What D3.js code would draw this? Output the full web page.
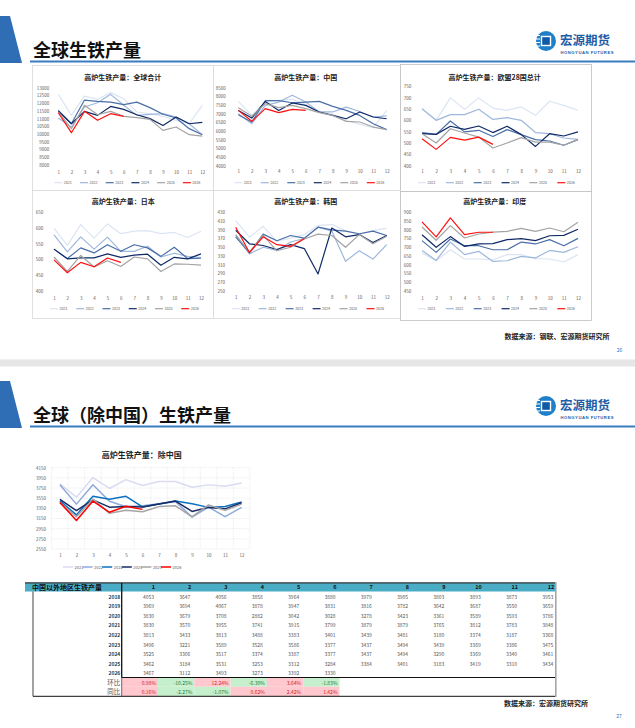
<!DOCTYPE html>
<html>
<head>
<meta charset="utf-8">
<title>全球生铁产量</title>
<script src="https://d3js.org/d3.v7.min.js"></script>
<style>
  body { margin: 0; background: #fff; }
  svg { display: block; font-family: "Noto Sans CJK SC", "Noto Sans", sans-serif; }
</style>
</head>
<body>
<svg id="page" width="635" height="728"></svg>
<script>
// ---- data ----
const months = [1, 2, 3, 4, 5, 6, 7, 8, 9, 10, 11, 12];
const years = ["2021", "2022", "2023", "2024", "2025", "2026"];

// 高炉生铁产量：全球合计
const globalSeries = [
  [12570, 11210, 12460, 12250, 12680, 12290, 11430, 11320, 11150, 10890, 10670, 11860],
  [11040, 10460, 11750, 12030, 12570, 11860, 11210, 11280, 11320, 11100, 10670, 9960],
  [11530, 10670, 12200, 12120, 12070, 11900, 12070, 11710, 11280, 11040, 10350, 9960],
  [11490, 10670, 11470, 11210, 11790, 11600, 11250, 11000, 10560, 11100, 10670, 10760],
  [11430, 10350, 11860, 11250, 11470, 11150, 11060, 10950, 10240, 10460, 9960, 9870],
  [11380, 10090, 11470, 10890, 11320, 11150]
];
const globalTicks = [8000, 8500, 9000, 9500, 10000, 10500, 11000, 11500, 12000, 12500, 13000];

// 高炉生铁产量：中国
const chinaSeries = [
  [7710, 6900, 7670, 7770, 7830, 7520, 7130, 6960, 6620, 6380, 6190, 7190],
  [7000, 6420, 7480, 7670, 8060, 7670, 7100, 7100, 7380, 7130, 6810, 6870],
  [6940, 6520, 7750, 7750, 7630, 7670, 7710, 7420, 7190, 6900, 6420, 6080],
  [7190, 6750, 7710, 7190, 7620, 7480, 7100, 6900, 6710, 7100, 6810, 6710],
  [7350, 6850, 7580, 7350, 7480, 7290, 7060, 6900, 6560, 6520, 6230, 6080],
  [7190, 6560, 7290, 7060, 7250, 7190]
];
const chinaTicks = [4000, 4500, 5000, 5500, 6000, 6500, 7000, 7500, 8000, 8500];

// 高炉生铁产量：欧盟28国总计
const euSeries = [
  [651, 600, 699, 649, 699, 654, 644, 659, 622, 684, 666, 644],
  [651, 600, 625, 625, 649, 604, 612, 600, 546, 541, 522, 516],
  [546, 538, 597, 549, 556, 529, 559, 537, 515, 509, 490, 515],
  [541, 538, 574, 560, 575, 546, 574, 537, 485, 541, 531, 549],
  [541, 500, 563, 544, 526, 478, 500, 524, 504, 504, 490, 516],
  [519, 472, 525, 513, 526, 494]
];
const euTicks = [400, 450, 500, 550, 600, 650, 700, 750];

// 高炉生铁产量：日本
const japanSeries = [
  [600, 545, 611, 568, 613, 582, 590, 592, 582, 586, 570, 590],
  [578, 524, 572, 533, 571, 526, 526, 542, 508, 520, 510, 506],
  [533, 503, 537, 521, 547, 526, 547, 537, 510, 539, 503, 504],
  [533, 502, 505, 505, 518, 507, 514, 517, 482, 507, 502, 518],
  [508, 462, 513, 476, 496, 478, 508, 502, 462, 486, 485, 482],
  [499, 458, 491, 477, 505, 491]
];
const japanTicks = [400, 450, 500, 550, 600, 650];

// 高炉生铁产量：韩国
const koreaSeries = [
  [411, 373, 398, 364, 371, 379, 400, 402, 388, 379, 388, 394],
  [377, 335, 350, 343, 362, 370, 396, 387, 318, 342, 323, 356],
  [374, 337, 380, 365, 377, 371, 396, 390, 387, 381, 387, 377],
  [389, 358, 354, 345, 356, 347, 289, 394, 374, 379, 361, 377],
  [379, 339, 377, 342, 350, 369, 380, 377, 350, 379, 358, 375],
  [396, 338, 374, 356, 352, 370]
];
const koreaTicks = [250, 270, 290, 310, 330, 350, 370, 390, 410, 430];

// 高炉生铁产量：印度
const indiaSeries = [
  [667, 623, 686, 633, 633, 629, 658, 658, 635, 633, 616, 658],
  [682, 625, 730, 658, 677, 619, 623, 648, 639, 682, 671, 703],
  [738, 671, 747, 709, 709, 686, 686, 730, 719, 744, 709, 751],
  [772, 700, 761, 705, 719, 721, 744, 749, 738, 766, 768, 803],
  [816, 740, 824, 753, 776, 787, 791, 808, 791, 810, 789, 843],
  [845, 759, 868, 772, 786, 786]
];
const indiaTicks = [450, 500, 550, 600, 650, 700, 750, 800, 850, 900];

// 中国以外地区生铁产量 (table, also the 除中国 chart)
const tableYears = ["2018", "2019", "2020", "2021", "2022", "2023", "2024", "2025", "2026"];
const tableRows = [
  [4053, 3647, 4056, 3858, 3964, 3880, 3979, 3905, 3803, 3893, 3873, 3953],
  [3969, 3694, 4067, 3878, 3947, 3831, 3816, 3782, 3642, 3687, 3550, 3659],
  [3830, 3679, 3708, 2882, 3042, 3028, 3278, 3423, 3361, 3589, 3593, 3786],
  [3830, 3570, 3955, 3741, 3915, 3799, 3879, 3879, 3765, 3812, 3783, 3848],
  [3813, 3433, 3813, 3488, 3383, 3401, 3439, 3481, 3180, 3374, 3187, 3368],
  [3496, 3221, 3589, 3528, 3586, 3377, 3437, 3494, 3439, 3369, 3386, 3475],
  [3525, 3306, 3517, 3374, 3387, 3377, 3437, 3494, 3290, 3369, 3340, 3461],
  [3462, 3184, 3531, 3253, 3312, 3284, 3384, 3401, 3183, 3419, 3310, 3434],
  [3467, 3112, 3493, 3273, 3392, 3330]
];
const momPct = [0.98, -10.25, 12.24, -6.30, 3.64, -1.83];
const yoyPct = [0.16, -2.27, -1.07, 0.62, 2.42, 1.42];
const exChinaTicks = [2550, 2750, 2950, 3150, 3350, 3550, 3750, 3950, 4150];

// ---- styles ----
const topColors = ["#dce5f3", "#9fb7dd", "#4a6fa8", "#0f2a66", "#a3a3a3", "#ff1010"];
const bottomColors = ["#d9dbf1", "#8eaadb", "#0a72c0", "#1a2a62", "#a5a5a5", "#ff0000"];

const svg = d3.select("#page");

function drawHeader(dy, title) {
  const h = svg.append("g").attr("transform", "translate(0," + dy + ")");
  h.append("path").attr("d", "M0,16 L10,16 L22,63 L0,63 Z").attr("fill", "#2f6eb5");
  h.append("text").attr("x", 33).attr("y", 57)
    .attr("font-size", 18).attr("font-weight", 700).attr("fill", "#111")
    .text(title);
  h.append("rect").attr("x", 30).attr("y", 60.5).attr("width", 605).attr("height", 2)
    .attr("fill", "#3a7cc0");
  // logo
  const lg = h.append("g").attr("transform", "translate(546,41)");
  lg.append("circle").attr("r", 10).attr("fill", "#1f7fc9");
  lg.append("rect").attr("x", -4.5).attr("y", -4.5).attr("width", 9).attr("height", 9)
    .attr("fill", "#0f5aa6").attr("stroke", "#fff").attr("stroke-width", 1.4);
  [-6, -2.5, 1, 4.5].forEach(yy => {
    lg.append("rect").attr("x", -11).attr("y", yy).attr("width", 5).attr("height", 1)
      .attr("fill", "#fff");
  });
  h.append("text").attr("x", 560).attr("y", 45)
    .attr("font-size", 12.5).attr("font-weight", 700).attr("fill", "#1d5ea8")
    .text("宏源期货");
  h.append("text").attr("x", 560.5).attr("y", 53.5)
    .attr("font-size", 4.2).attr("font-weight", 700).attr("fill", "#1d5ea8")
    .attr("textLength", 53).attr("font-family", "Liberation Sans, Arial, sans-serif")
    .text("HONGYUAN FUTURES");
}

function drawLineChart(cfg, series, ticks, colors) {
  const g = svg.append("g");
  if (cfg.box) {
    g.append("rect")
      .attr("x", cfg.box[0] + 0.5).attr("y", cfg.box[1] + 0.5)
      .attr("width", cfg.box[2] - cfg.box[0]).attr("height", cfg.box[3] - cfg.box[1])
      .attr("fill", "#fff").attr("stroke", cfg.boxColor || "#d9d9d9").attr("stroke-width", 0.8);
  }
  g.append("text")
    .attr("x", cfg.tx).attr("y", cfg.ty)
    .attr("text-anchor", "middle").attr("dominant-baseline", "central")
    .attr("font-size", cfg.titleSize).attr("font-weight", 700).attr("fill", "#222")
    .text(cfg.title);

  const step = (cfg.xLast - cfg.xFirst) / 11;
  const x = d3.scalePoint().domain(months).range([cfg.xFirst, cfg.xLast]);
  const y = d3.scaleLinear().domain([ticks[0], ticks[ticks.length - 1]]).range([cfg.yBot, cfg.yTop]);

  if (cfg.grid) {
    const grid = g.append("g").attr("stroke", "#d9d9d9").attr("stroke-width", 0.5)
      .attr("stroke-dasharray", "1.2,1");
    grid.selectAll("line.h").data(ticks).join("line").attr("class", "h")
      .attr("x1", cfg.xFirst - step / 2).attr("x2", cfg.xLast + step / 2)
      .attr("y1", d => y(d)).attr("y2", d => y(d));
    grid.selectAll("line.v").data(d3.range(13)).join("line").attr("class", "v")
      .attr("x1", d => cfg.xFirst - step / 2 + d * step).attr("x2", d => cfg.xFirst - step / 2 + d * step)
      .attr("y1", cfg.yTop).attr("y2", cfg.yBot);
  }

  const ya = g.append("g")
    .attr("transform", "translate(" + cfg.yLabelX + ",0)")
    .call(d3.axisLeft(y).tickValues(ticks).tickSize(0).tickPadding(0).tickFormat(d3.format("d")));
  ya.select(".domain").remove();
  ya.attr("font-size", cfg.tickSize).attr("font-family", "Noto Sans CJK SC, sans-serif");
  ya.selectAll("text").attr("fill", "#595959");

  const xa = g.append("g")
    .attr("transform", "translate(0," + cfg.xLabelY + ")")
    .call(d3.axisBottom(x).tickSize(0).tickPadding(0));
  xa.select(".domain").remove();
  xa.attr("font-size", cfg.tickSize).attr("font-family", "Noto Sans CJK SC, sans-serif");
  xa.selectAll("text").attr("fill", "#595959").attr("dy", "0.35em");

  const line = d3.line().x((d, i) => x(months[i])).y(d => y(d));
  g.selectAll("path.series").data(series).join("path")
    .attr("class", "series")
    .attr("d", line)
    .attr("fill", "none")
    .attr("stroke", (d, i) => colors[i])
    .attr("stroke-width", cfg.lineWidth)
    .attr("stroke-linejoin", "round");

  const leg = g.append("g");
  years.forEach((yr, i) => {
    const lx = cfg.legX + i * cfg.legStep;
    leg.append("line")
      .attr("x1", lx).attr("x2", lx + cfg.legLine)
      .attr("y1", cfg.legendY).attr("y2", cfg.legendY)
      .attr("stroke", colors[i]).attr("stroke-width", cfg.lineWidth);
    leg.append("text")
      .attr("x", lx + cfg.legLine + 1.5).attr("y", cfg.legendY)
      .attr("dominant-baseline", "central")
      .attr("font-size", cfg.legSize).attr("fill", "#595959")
      .text(yr);
  });
}

function topCfg(o) {
  return Object.assign({
    titleSize: 7, tickSize: 4.5, lineWidth: 1.2, legLine: 8, legSize: 3.6,
    legX: o.xFirst - 4, legStep: (o.xLast - o.xFirst) / 5.6
  }, o);
}

// ---- slide 26 ----
drawHeader(0, "全球生铁产量");

drawLineChart(topCfg({
  box: [32, 65, 213, 190], title: "高炉生铁产量：全球合计", tx: 122.7, ty: 77,
  yTop: 87.7, yBot: 165, xFirst: 58.3, xLast: 202.3, yLabelX: 49.3, xLabelY: 172, legendY: 182.7
}), globalSeries, globalTicks, topColors);

drawLineChart(topCfg({
  box: [213, 65, 400, 190], title: "高炉生铁产量：中国", tx: 305.7, ty: 77,
  yTop: 87.7, yBot: 165.7, xFirst: 238.3, xLast: 386.7, yLabelX: 225.7, xLabelY: 171.5, legendY: 182.7
}), chinaSeries, chinaTicks, topColors);

drawLineChart(topCfg({
  box: [400, 64, 591, 191], boxColor: "#bfbfbf", title: "高炉生铁产量：欧盟28国总计", tx: 494.7, ty: 77,
  yTop: 86.3, yBot: 165.7, xFirst: 422, xLast: 578, yLabelX: 411.3, xLabelY: 171.5, legendY: 182.7
}), euSeries, euTicks, topColors);

drawLineChart(topCfg({
  box: [32, 190, 213, 318], title: "高炉生铁产量：日本", tx: 123.3, ty: 200.7,
  yTop: 212.3, yBot: 291, xFirst: 54, xLast: 201, yLabelX: 43.3, xLabelY: 298, legendY: 308.7
}), japanSeries, japanTicks, topColors);

drawLineChart(topCfg({
  box: [213, 190, 400, 318], title: "高炉生铁产量：韩国", tx: 305.7, ty: 200.7,
  yTop: 212.3, yBot: 291, xFirst: 235.7, xLast: 386.7, yLabelX: 225, xLabelY: 297.5, legendY: 308.7
}), koreaSeries, koreaTicks, topColors);

drawLineChart(topCfg({
  box: [400, 191, 591, 320], boxColor: "#bfbfbf", title: "高炉生铁产量：印度", tx: 494.7, ty: 201.3,
  yTop: 212.3, yBot: 291, xFirst: 422, xLast: 578, yLabelX: 411.3, xLabelY: 298, legendY: 308.7
}), indiaSeries, indiaTicks, topColors);

svg.append("text").attr("x", 504.5).attr("y", 336).attr("dominant-baseline", "central")
  .attr("font-size", 7).attr("font-weight", 700).attr("fill", "#222")
  .text("数据来源：钢联、宏源期货研究所");
svg.append("text").attr("x", 619.5).attr("y", 349).attr("text-anchor", "middle")
  .attr("dominant-baseline", "central")
  .attr("font-size", 5).attr("fill", "#2f6eb5").text("26");

// separator between slides
svg.append("rect").attr("x", 0).attr("y", 359.5).attr("width", 635).attr("height", 7).attr("fill", "#e6e6e6");

// ---- slide 27 ----
drawHeader(365, "全球（除中国）生铁产量");

drawLineChart({
  title: "高炉生铁产量：除中国", tx: 141.7, ty: 454, titleSize: 8, tickSize: 4.5,
  yTop: 467.7, yBot: 549, xFirst: 59.9, xLast: 241.6, yLabelX: 46, xLabelY: 555.5, legendY: 567,
  grid: true, lineWidth: 1.5, legX: 63, legStep: 19.6, legLine: 10, legSize: 4
}, tableRows.slice(3), exChinaTicks, bottomColors);

// table
const tbl = svg.append("g");
tbl.append("clipPath").attr("id", "tblClip")
  .append("rect").attr("x", 0).attr("y", 570).attr("width", 555).attr("height", 140);

const col = d3.scaleBand().domain(months).range([121.7, 557.3]);
const row = d3.scaleBand().domain(tableYears).range([591.5, 677.5]);
const pctRow = d3.scaleBand().domain(["环比", "同比"]).range([677.5, 696]);

tbl.append("rect").attr("x", 25).attr("y", 583).attr("width", 530).attr("height", 8.5).attr("fill", "#4bacc6");
const cells = tbl.append("g").attr("clip-path", "url(#tblClip)");
tbl.append("line").attr("x1", 25).attr("x2", 555).attr("y1", 582.8).attr("y2", 582.8)
  .attr("stroke", "#333").attr("stroke-width", 1.2);
tbl.append("text").attr("x", 32).attr("y", 587.3).attr("dominant-baseline", "central")
  .attr("font-size", 7).attr("font-weight", 700).attr("fill", "#111")
  .text("中国以外地区生铁产量");

cells.selectAll("text.hdr").data(months).join("text").attr("class", "hdr")
  .attr("x", d => col(d) + col.bandwidth() - 3).attr("y", 587.3)
  .attr("text-anchor", "end").attr("dominant-baseline", "central")
  .attr("font-size", 5.5).attr("font-weight", 700).attr("fill", "#111")
  .text(d => d);

tbl.selectAll("text.yr").data(tableYears).join("text").attr("class", "yr")
  .attr("x", 120.3).attr("y", d => row(d) + row.bandwidth() / 2)
  .attr("text-anchor", "end").attr("dominant-baseline", "central")
  .attr("font-size", 5).attr("font-weight", 700).attr("fill", "#333")
  .text(d => d);

tableRows.forEach((vals, r) => {
  cells.selectAll("text.v" + r).data(vals).join("text").attr("class", "v" + r)
    .attr("x", (d, i) => col(months[i]) + col.bandwidth() - 4)
    .attr("y", row(tableYears[r]) + row.bandwidth() / 2)
    .attr("text-anchor", "end").attr("dominant-baseline", "central")
    .attr("font-size", 5).attr("fill", "#555")
    .text(d => d);
});

[["环比", momPct], ["同比", yoyPct]].forEach(([lab, vals]) => {
  const yy = pctRow(lab);
  cells.selectAll("rect.p" + lab).data(vals).join("rect").attr("class", "p" + lab)
    .attr("x", (d, i) => col(months[i])).attr("y", yy)
    .attr("width", col.bandwidth()).attr("height", pctRow.bandwidth())
    .attr("fill", d => d >= 0 ? "#ffc7ce" : "#c6efce");
  cells.selectAll("text.p" + lab).data(vals).join("text").attr("class", "p" + lab)
    .attr("x", (d, i) => col(months[i]) + col.bandwidth() - 2)
    .attr("y", yy + pctRow.bandwidth() / 2)
    .attr("text-anchor", "end").attr("dominant-baseline", "central")
    .attr("font-size", 5).attr("fill", d => d >= 0 ? "#d0202a" : "#1e7b34")
    .text(d => d.toFixed(2) + "%");
  tbl.append("text").attr("x", 120.3).attr("y", yy + pctRow.bandwidth() / 2)
    .attr("text-anchor", "end").attr("dominant-baseline", "central")
    .attr("font-size", 6.5).attr("fill", "#555").text(lab);
});

tbl.append("line").attr("x1", 121.7).attr("x2", 121.7).attr("y1", 583).attr("y2", 677.5)
  .attr("stroke", "#111").attr("stroke-width", 1.3);
tbl.append("line").attr("x1", 121.7).attr("x2", 121.7).attr("y1", 677.5).attr("y2", 696)
  .attr("stroke", "#111").attr("stroke-width", 0.6);
tbl.append("line").attr("x1", 121.7).attr("x2", 555).attr("y1", 677.5).attr("y2", 677.5)
  .attr("stroke", "#111").attr("stroke-width", 1.1);
tbl.append("line").attr("x1", 33).attr("x2", 33).attr("y1", 591.5).attr("y2", 696.3)
  .attr("stroke", "#111").attr("stroke-width", 0.8);
tbl.append("line").attr("x1", 33).attr("x2", 555).attr("y1", 696.3).attr("y2", 696.3)
  .attr("stroke", "#111").attr("stroke-width", 1);
tbl.append("line").attr("x1", 555.8).attr("x2", 555.8).attr("y1", 582).attr("y2", 697)
  .attr("stroke", "#a6a6a6").attr("stroke-width", 1.6);

svg.append("text").attr("x", 504).attr("y", 703.3).attr("dominant-baseline", "central")
  .attr("font-size", 7).attr("font-weight", 700).attr("fill", "#222")
  .text("数据来源：宏源期货研究所");
svg.append("text").attr("x", 619).attr("y", 715.5).attr("text-anchor", "middle")
  .attr("dominant-baseline", "central")
  .attr("font-size", 5).attr("fill", "#2f6eb5").text("27");
</script>
</body>
</html>
